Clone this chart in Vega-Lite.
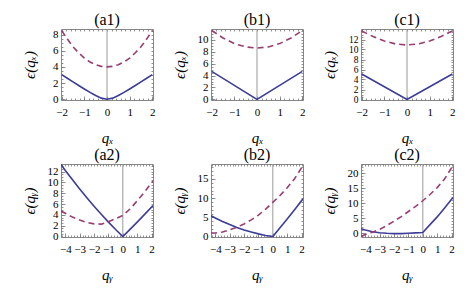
{
"$schema": "https://vega.github.io/schema/vega-lite/v6.json",
"padding": {"left": 21, "top": 11, "right": 5, "bottom": 5},
"background": "white",
"bounds": "flush",
"columns": 3,
"spacing": {"row": 64, "column": 58},
"datasets": {
"curves": [
{"p":"a1","s":"b","q":-2,"v":3.05},{"p":"a1","s":"b","q":-1.75,"v":2.6},{"p":"a1","s":"b","q":-1.5,"v":2.15},{"p":"a1","s":"b","q":-1.25,"v":1.7},{"p":"a1","s":"b","q":-1,"v":1.27},{"p":"a1","s":"b","q":-0.75,"v":0.85},{"p":"a1","s":"b","q":-0.5,"v":0.45},{"p":"a1","s":"b","q":-0.25,"v":0.13},{"p":"a1","s":"b","q":0,"v":0},{"p":"a1","s":"b","q":0.25,"v":0.13},{"p":"a1","s":"b","q":0.5,"v":0.45},{"p":"a1","s":"b","q":0.75,"v":0.85},{"p":"a1","s":"b","q":1,"v":1.27},{"p":"a1","s":"b","q":1.25,"v":1.7},{"p":"a1","s":"b","q":1.5,"v":2.15},{"p":"a1","s":"b","q":1.75,"v":2.6},{"p":"a1","s":"b","q":2,"v":3.05},
{"p":"a1","s":"d","q":-2,"v":8.5},{"p":"a1","s":"d","q":-1.75,"v":7.45},{"p":"a1","s":"d","q":-1.5,"v":6.5},{"p":"a1","s":"d","q":-1.25,"v":5.75},{"p":"a1","s":"d","q":-1,"v":5.1},{"p":"a1","s":"d","q":-0.75,"v":4.6},{"p":"a1","s":"d","q":-0.5,"v":4.27},{"p":"a1","s":"d","q":-0.25,"v":4.07},{"p":"a1","s":"d","q":0,"v":4.0},{"p":"a1","s":"d","q":0.25,"v":4.07},{"p":"a1","s":"d","q":0.5,"v":4.27},{"p":"a1","s":"d","q":0.75,"v":4.6},{"p":"a1","s":"d","q":1,"v":5.1},{"p":"a1","s":"d","q":1.25,"v":5.75},{"p":"a1","s":"d","q":1.5,"v":6.5},{"p":"a1","s":"d","q":1.75,"v":7.45},{"p":"a1","s":"d","q":2,"v":8.5},
{"p":"b1","s":"b","q":-2,"v":4.7},{"p":"b1","s":"b","q":-1,"v":2.35},{"p":"b1","s":"b","q":0,"v":0},{"p":"b1","s":"b","q":1,"v":2.35},{"p":"b1","s":"b","q":2,"v":4.7},
{"p":"b1","s":"d","q":-2,"v":11.55},{"p":"b1","s":"d","q":-1.5,"v":10.3},{"p":"b1","s":"d","q":-1,"v":9.35},{"p":"b1","s":"d","q":-0.5,"v":8.8},{"p":"b1","s":"d","q":0,"v":8.6},{"p":"b1","s":"d","q":0.5,"v":8.8},{"p":"b1","s":"d","q":1,"v":9.35},{"p":"b1","s":"d","q":1.5,"v":10.3},{"p":"b1","s":"d","q":2,"v":11.55},
{"p":"c1","s":"b","q":-2,"v":5.1},{"p":"c1","s":"b","q":-1,"v":2.55},{"p":"c1","s":"b","q":0,"v":0},{"p":"c1","s":"b","q":1,"v":2.55},{"p":"c1","s":"b","q":2,"v":5.1},
{"p":"c1","s":"d","q":-2,"v":13.7},{"p":"c1","s":"d","q":-1.5,"v":12.6},{"p":"c1","s":"d","q":-1,"v":11.7},{"p":"c1","s":"d","q":-0.5,"v":11.1},{"p":"c1","s":"d","q":0,"v":10.9},{"p":"c1","s":"d","q":0.5,"v":11.1},{"p":"c1","s":"d","q":1,"v":11.7},{"p":"c1","s":"d","q":1.5,"v":12.6},{"p":"c1","s":"d","q":2,"v":13.7},
{"p":"a2","s":"b","q":-4.3,"v":13.3},{"p":"a2","s":"b","q":-4,"v":12.2},{"p":"a2","s":"b","q":-3.5,"v":10.48},{"p":"a2","s":"b","q":-3,"v":8.8},{"p":"a2","s":"b","q":-2.5,"v":7.18},{"p":"a2","s":"b","q":-2,"v":5.62},{"p":"a2","s":"b","q":-1.5,"v":4.12},{"p":"a2","s":"b","q":-1,"v":2.68},{"p":"a2","s":"b","q":-0.5,"v":1.31},{"p":"a2","s":"b","q":0,"v":0},{"p":"a2","s":"b","q":0.5,"v":1.33},{"p":"a2","s":"b","q":1,"v":2.68},{"p":"a2","s":"b","q":1.5,"v":4.05},{"p":"a2","s":"b","q":2.1,"v":5.72},
{"p":"a2","s":"d","q":-4.3,"v":4.73},{"p":"a2","s":"d","q":-4,"v":4.3},{"p":"a2","s":"d","q":-3.5,"v":3.6},{"p":"a2","s":"d","q":-3,"v":3.05},{"p":"a2","s":"d","q":-2.5,"v":2.6},{"p":"a2","s":"d","q":-2,"v":2.35},{"p":"a2","s":"d","q":-1.5,"v":2.3},{"p":"a2","s":"d","q":-1,"v":2.75},{"p":"a2","s":"d","q":-0.5,"v":3.3},{"p":"a2","s":"d","q":0,"v":3.9},{"p":"a2","s":"d","q":0.5,"v":5.1},{"p":"a2","s":"d","q":1,"v":6.6},{"p":"a2","s":"d","q":1.5,"v":8.2},{"p":"a2","s":"d","q":2.1,"v":10.25},
{"p":"b2","s":"b","q":-4.3,"v":5.43},{"p":"b2","s":"b","q":-4,"v":4.85},{"p":"b2","s":"b","q":-3.5,"v":3.95},{"p":"b2","s":"b","q":-3,"v":3.13},{"p":"b2","s":"b","q":-2.5,"v":2.4},{"p":"b2","s":"b","q":-2,"v":1.75},{"p":"b2","s":"b","q":-1.5,"v":1.19},{"p":"b2","s":"b","q":-1,"v":0.71},{"p":"b2","s":"b","q":-0.5,"v":0.31},{"p":"b2","s":"b","q":0,"v":0},{"p":"b2","s":"b","q":0.5,"v":2.3},{"p":"b2","s":"b","q":1,"v":4.6},{"p":"b2","s":"b","q":1.5,"v":6.95},{"p":"b2","s":"b","q":2.1,"v":9.83},
{"p":"b2","s":"d","q":-4.3,"v":0.95},{"p":"b2","s":"d","q":-4,"v":0.93},{"p":"b2","s":"d","q":-3.5,"v":1.2},{"p":"b2","s":"d","q":-3,"v":1.75},{"p":"b2","s":"d","q":-2.5,"v":2.45},{"p":"b2","s":"d","q":-2,"v":3.3},{"p":"b2","s":"d","q":-1.5,"v":4.35},{"p":"b2","s":"d","q":-1,"v":5.6},{"p":"b2","s":"d","q":-0.5,"v":7.15},{"p":"b2","s":"d","q":0,"v":8.9},{"p":"b2","s":"d","q":0.5,"v":10.7},{"p":"b2","s":"d","q":1,"v":12.7},{"p":"b2","s":"d","q":1.5,"v":15.0},{"p":"b2","s":"d","q":2.1,"v":18.5},
{"p":"c2","s":"b","q":-4.3,"v":1.45},{"p":"c2","s":"b","q":-4,"v":1.0},{"p":"c2","s":"b","q":-3.5,"v":0.45},{"p":"c2","s":"b","q":-3,"v":0.1},{"p":"c2","s":"b","q":-2.5,"v":-0.1},{"p":"c2","s":"b","q":-2,"v":-0.2},{"p":"c2","s":"b","q":-1.5,"v":-0.2},{"p":"c2","s":"b","q":-1,"v":-0.1},{"p":"c2","s":"b","q":-0.5,"v":0.05},{"p":"c2","s":"b","q":0,"v":0.2},{"p":"c2","s":"b","q":0.5,"v":2.8},{"p":"c2","s":"b","q":1,"v":5.4},{"p":"c2","s":"b","q":1.5,"v":8.3},{"p":"c2","s":"b","q":2.1,"v":11.9},
{"p":"c2","s":"d","q":-4.3,"v":-1.1},{"p":"c2","s":"d","q":-4,"v":-0.5},{"p":"c2","s":"d","q":-3.5,"v":0.3},{"p":"c2","s":"d","q":-3,"v":1.2},{"p":"c2","s":"d","q":-2.5,"v":2.5},{"p":"c2","s":"d","q":-2,"v":4.0},{"p":"c2","s":"d","q":-1.5,"v":5.5},{"p":"c2","s":"d","q":-1,"v":7.2},{"p":"c2","s":"d","q":-0.5,"v":8.9},{"p":"c2","s":"d","q":0,"v":10.8},{"p":"c2","s":"d","q":0.5,"v":12.9},{"p":"c2","s":"d","q":1,"v":15.2},{"p":"c2","s":"d","q":1.5,"v":18.0},{"p":"c2","s":"d","q":2.1,"v":22.6}
]
},
"concat": [
{"width": 92, "height": 71, "title": {"text": "(a1)"}, "resolve": {"axis": {"x": "independent", "y": "independent"}},
 "layer": [
  {"data": {"values": [{"q": 0, "lo": -0.1, "hi": 8.7}]}, "mark": {"type": "rule", "color": "#999", "strokeWidth": 1},
   "encoding": {"x": {"field": "q", "type": "quantitative", "scale": {"domain": [-2.03, 2.03], "nice": false, "zero": false}, "axis": {"orient": "top", "values": [-2,-1.8,-1.6,-1.4,-1.2,-1,-0.8,-0.6,-0.4,-0.2,0,0.2,0.4,0.6,0.8,1,1.2,1.4,1.6,1.8,2], "labels": false, "title": null, "tickSize": -2, "minExtent": 0, "maxExtent": 0}},
    "y": {"field": "lo", "type": "quantitative", "scale": {"domain": [-0.1, 8.7], "nice": false, "zero": false}, "axis": {"orient": "left", "values": [0,0.5,1,1.5,2,2.5,3,3.5,4,4.5,5,5.5,6,6.5,7,7.5,8,8.5], "labels": false, "title": null, "tickSize": -2, "minExtent": 0, "maxExtent": 0}}, "y2": {"field": "hi"}}},
  {"data": {"name": "curves"}, "transform": [{"filter": "datum.p === 'a1' && datum.s === 'b'"}], "mark": {"type": "line", "color": "#3d3d99", "strokeWidth": 1.6, "clip": true},
   "encoding": {"x": {"field": "q", "type": "quantitative", "scale": {"domain": [-2.03, 2.03], "nice": false, "zero": false}, "axis": {"orient": "bottom", "values": [-2,-1,0,1,2], "labelOverlap": false, "labelFlush": false, "title": "qₓ"}},
    "y": {"field": "v", "type": "quantitative", "scale": {"domain": [-0.1, 8.7], "nice": false, "zero": false}, "axis": {"orient": "left", "values": [0,2,4,6,8], "labelOverlap": false, "labelFlush": false, "title": "ϵ(qₓ)"}}}},
  {"data": {"name": "curves"}, "transform": [{"filter": "datum.p === 'a1' && datum.s === 'd'"}], "mark": {"type": "line", "color": "#993d71", "strokeWidth": 1.6, "strokeDash": [6, 4], "clip": true},
   "encoding": {"x": {"field": "q", "type": "quantitative", "scale": {"domain": [-2.03, 2.03], "nice": false, "zero": false}, "axis": {"orient": "bottom", "values": [-2,-1.8,-1.6,-1.4,-1.2,-1,-0.8,-0.6,-0.4,-0.2,0,0.2,0.4,0.6,0.8,1,1.2,1.4,1.6,1.8,2], "labels": false, "title": null, "tickSize": -2, "minExtent": 0, "maxExtent": 0}},
    "y": {"field": "v", "type": "quantitative", "scale": {"domain": [-0.1, 8.7], "nice": false, "zero": false}, "axis": {"orient": "right", "values": [0,0.5,1,1.5,2,2.5,3,3.5,4,4.5,5,5.5,6,6.5,7,7.5,8,8.5], "labels": false, "title": null, "tickSize": -2, "minExtent": 0, "maxExtent": 0}}}}
 ]},
{"width": 92, "height": 71, "title": {"text": "(b1)"}, "resolve": {"axis": {"x": "independent", "y": "independent"}},
 "layer": [
  {"data": {"values": [{"q": 0, "lo": -0.1, "hi": 11.8}]}, "mark": {"type": "rule", "color": "#999", "strokeWidth": 1},
   "encoding": {"x": {"field": "q", "type": "quantitative", "scale": {"domain": [-2.03, 2.03], "nice": false, "zero": false}, "axis": {"orient": "top", "values": [-2,-1.8,-1.6,-1.4,-1.2,-1,-0.8,-0.6,-0.4,-0.2,0,0.2,0.4,0.6,0.8,1,1.2,1.4,1.6,1.8,2], "labels": false, "title": null, "tickSize": -2, "minExtent": 0, "maxExtent": 0}},
    "y": {"field": "lo", "type": "quantitative", "scale": {"domain": [-0.1, 11.8], "nice": false, "zero": false}, "axis": {"orient": "left", "values": [0,0.5,1,1.5,2,2.5,3,3.5,4,4.5,5,5.5,6,6.5,7,7.5,8,8.5,9,9.5,10,10.5,11,11.5], "labels": false, "title": null, "tickSize": -2, "minExtent": 0, "maxExtent": 0}}, "y2": {"field": "hi"}}},
  {"data": {"name": "curves"}, "transform": [{"filter": "datum.p === 'b1' && datum.s === 'b'"}], "mark": {"type": "line", "color": "#3d3d99", "strokeWidth": 1.6, "clip": true},
   "encoding": {"x": {"field": "q", "type": "quantitative", "scale": {"domain": [-2.03, 2.03], "nice": false, "zero": false}, "axis": {"orient": "bottom", "values": [-2,-1,0,1,2], "labelOverlap": false, "labelFlush": false, "title": "qₓ"}},
    "y": {"field": "v", "type": "quantitative", "scale": {"domain": [-0.1, 11.8], "nice": false, "zero": false}, "axis": {"orient": "left", "values": [0,2,4,6,8,10], "labelOverlap": false, "labelFlush": false, "title": "ϵ(qₓ)"}}}},
  {"data": {"name": "curves"}, "transform": [{"filter": "datum.p === 'b1' && datum.s === 'd'"}], "mark": {"type": "line", "color": "#993d71", "strokeWidth": 1.6, "strokeDash": [6, 4], "clip": true},
   "encoding": {"x": {"field": "q", "type": "quantitative", "scale": {"domain": [-2.03, 2.03], "nice": false, "zero": false}, "axis": {"orient": "bottom", "values": [-2,-1.8,-1.6,-1.4,-1.2,-1,-0.8,-0.6,-0.4,-0.2,0,0.2,0.4,0.6,0.8,1,1.2,1.4,1.6,1.8,2], "labels": false, "title": null, "tickSize": -2, "minExtent": 0, "maxExtent": 0}},
    "y": {"field": "v", "type": "quantitative", "scale": {"domain": [-0.1, 11.8], "nice": false, "zero": false}, "axis": {"orient": "right", "values": [0,0.5,1,1.5,2,2.5,3,3.5,4,4.5,5,5.5,6,6.5,7,7.5,8,8.5,9,9.5,10,10.5,11,11.5], "labels": false, "title": null, "tickSize": -2, "minExtent": 0, "maxExtent": 0}}}}
 ]},
{"width": 92, "height": 71, "title": {"text": "(c1)"}, "resolve": {"axis": {"x": "independent", "y": "independent"}},
 "layer": [
  {"data": {"values": [{"q": 0, "lo": -0.1, "hi": 14.1}]}, "mark": {"type": "rule", "color": "#999", "strokeWidth": 1},
   "encoding": {"x": {"field": "q", "type": "quantitative", "scale": {"domain": [-2.03, 2.03], "nice": false, "zero": false}, "axis": {"orient": "top", "values": [-2,-1.8,-1.6,-1.4,-1.2,-1,-0.8,-0.6,-0.4,-0.2,0,0.2,0.4,0.6,0.8,1,1.2,1.4,1.6,1.8,2], "labels": false, "title": null, "tickSize": -2, "minExtent": 0, "maxExtent": 0}},
    "y": {"field": "lo", "type": "quantitative", "scale": {"domain": [-0.1, 14.1], "nice": false, "zero": false}, "axis": {"orient": "left", "values": [0,0.5,1,1.5,2,2.5,3,3.5,4,4.5,5,5.5,6,6.5,7,7.5,8,8.5,9,9.5,10,10.5,11,11.5,12,12.5,13,13.5,14], "labels": false, "title": null, "tickSize": -2, "minExtent": 0, "maxExtent": 0}}, "y2": {"field": "hi"}}},
  {"data": {"name": "curves"}, "transform": [{"filter": "datum.p === 'c1' && datum.s === 'b'"}], "mark": {"type": "line", "color": "#3d3d99", "strokeWidth": 1.6, "clip": true},
   "encoding": {"x": {"field": "q", "type": "quantitative", "scale": {"domain": [-2.03, 2.03], "nice": false, "zero": false}, "axis": {"orient": "bottom", "values": [-2,-1,0,1,2], "labelOverlap": false, "labelFlush": false, "title": "qₓ"}},
    "y": {"field": "v", "type": "quantitative", "scale": {"domain": [-0.1, 14.1], "nice": false, "zero": false}, "axis": {"orient": "left", "values": [0,2,4,6,8,10,12], "labelOverlap": false, "labelFlush": false, "labelFontSize": 9.5, "title": "ϵ(qₓ)"}}}},
  {"data": {"name": "curves"}, "transform": [{"filter": "datum.p === 'c1' && datum.s === 'd'"}], "mark": {"type": "line", "color": "#993d71", "strokeWidth": 1.6, "strokeDash": [6, 4], "clip": true},
   "encoding": {"x": {"field": "q", "type": "quantitative", "scale": {"domain": [-2.03, 2.03], "nice": false, "zero": false}, "axis": {"orient": "bottom", "values": [-2,-1.8,-1.6,-1.4,-1.2,-1,-0.8,-0.6,-0.4,-0.2,0,0.2,0.4,0.6,0.8,1,1.2,1.4,1.6,1.8,2], "labels": false, "title": null, "tickSize": -2, "minExtent": 0, "maxExtent": 0}},
    "y": {"field": "v", "type": "quantitative", "scale": {"domain": [-0.1, 14.1], "nice": false, "zero": false}, "axis": {"orient": "right", "values": [0,0.5,1,1.5,2,2.5,3,3.5,4,4.5,5,5.5,6,6.5,7,7.5,8,8.5,9,9.5,10,10.5,11,11.5,12,12.5,13,13.5,14], "labels": false, "title": null, "tickSize": -2, "minExtent": 0, "maxExtent": 0}}}}
 ]},
{"width": 92, "height": 73, "title": {"text": "(a2)"}, "resolve": {"axis": {"x": "independent", "y": "independent"}},
 "layer": [
  {"data": {"values": [{"q": 0, "lo": -0.07, "hi": 13.4}]}, "mark": {"type": "rule", "color": "#999", "strokeWidth": 1},
   "encoding": {"x": {"field": "q", "type": "quantitative", "scale": {"domain": [-4.3, 2.1], "nice": false, "zero": false}, "axis": {"orient": "top", "values": [-4.2,-4,-3.8,-3.6,-3.4,-3.2,-3,-2.8,-2.6,-2.4,-2.2,-2,-1.8,-1.6,-1.4,-1.2,-1,-0.8,-0.6,-0.4,-0.2,0,0.2,0.4,0.6,0.8,1,1.2,1.4,1.6,1.8,2], "labels": false, "title": null, "tickSize": -2, "minExtent": 0, "maxExtent": 0}},
    "y": {"field": "lo", "type": "quantitative", "scale": {"domain": [-0.07, 13.4], "nice": false, "zero": false}, "axis": {"orient": "left", "values": [0,0.5,1,1.5,2,2.5,3,3.5,4,4.5,5,5.5,6,6.5,7,7.5,8,8.5,9,9.5,10,10.5,11,11.5,12,12.5,13], "labels": false, "title": null, "tickSize": -2, "minExtent": 0, "maxExtent": 0}}, "y2": {"field": "hi"}}},
  {"data": {"name": "curves"}, "transform": [{"filter": "datum.p === 'a2' && datum.s === 'b'"}], "mark": {"type": "line", "color": "#3d3d99", "strokeWidth": 1.6, "clip": true},
   "encoding": {"x": {"field": "q", "type": "quantitative", "scale": {"domain": [-4.3, 2.1], "nice": false, "zero": false}, "axis": {"orient": "bottom", "values": [-4,-3,-2,-1,0,1,2], "labelOverlap": false, "labelFlush": false, "title": "qᵧ"}},
    "y": {"field": "v", "type": "quantitative", "scale": {"domain": [-0.07, 13.4], "nice": false, "zero": false}, "axis": {"orient": "left", "values": [0,2,4,6,8,10,12], "labelOverlap": false, "labelFlush": false, "title": "ϵ(qᵧ)"}}}},
  {"data": {"name": "curves"}, "transform": [{"filter": "datum.p === 'a2' && datum.s === 'd'"}], "mark": {"type": "line", "color": "#993d71", "strokeWidth": 1.6, "strokeDash": [6, 4], "clip": true},
   "encoding": {"x": {"field": "q", "type": "quantitative", "scale": {"domain": [-4.3, 2.1], "nice": false, "zero": false}, "axis": {"orient": "bottom", "values": [-4.2,-4,-3.8,-3.6,-3.4,-3.2,-3,-2.8,-2.6,-2.4,-2.2,-2,-1.8,-1.6,-1.4,-1.2,-1,-0.8,-0.6,-0.4,-0.2,0,0.2,0.4,0.6,0.8,1,1.2,1.4,1.6,1.8,2], "labels": false, "title": null, "tickSize": -2, "minExtent": 0, "maxExtent": 0}},
    "y": {"field": "v", "type": "quantitative", "scale": {"domain": [-0.07, 13.4], "nice": false, "zero": false}, "axis": {"orient": "right", "values": [0,0.5,1,1.5,2,2.5,3,3.5,4,4.5,5,5.5,6,6.5,7,7.5,8,8.5,9,9.5,10,10.5,11,11.5,12,12.5,13], "labels": false, "title": null, "tickSize": -2, "minExtent": 0, "maxExtent": 0}}}}
 ]},
{"width": 92, "height": 73, "title": {"text": "(b2)"}, "resolve": {"axis": {"x": "independent", "y": "independent"}},
 "layer": [
  {"data": {"values": [{"q": 0, "lo": -0.1, "hi": 18.9}]}, "mark": {"type": "rule", "color": "#999", "strokeWidth": 1},
   "encoding": {"x": {"field": "q", "type": "quantitative", "scale": {"domain": [-4.3, 2.1], "nice": false, "zero": false}, "axis": {"orient": "top", "values": [-4.2,-4,-3.8,-3.6,-3.4,-3.2,-3,-2.8,-2.6,-2.4,-2.2,-2,-1.8,-1.6,-1.4,-1.2,-1,-0.8,-0.6,-0.4,-0.2,0,0.2,0.4,0.6,0.8,1,1.2,1.4,1.6,1.8,2], "labels": false, "title": null, "tickSize": -2, "minExtent": 0, "maxExtent": 0}},
    "y": {"field": "lo", "type": "quantitative", "scale": {"domain": [-0.1, 18.9], "nice": false, "zero": false}, "axis": {"orient": "left", "values": [0,1,2,3,4,5,6,7,8,9,10,11,12,13,14,15,16,17,18], "labels": false, "title": null, "tickSize": -2, "minExtent": 0, "maxExtent": 0}}, "y2": {"field": "hi"}}},
  {"data": {"name": "curves"}, "transform": [{"filter": "datum.p === 'b2' && datum.s === 'b'"}], "mark": {"type": "line", "color": "#3d3d99", "strokeWidth": 1.6, "clip": true},
   "encoding": {"x": {"field": "q", "type": "quantitative", "scale": {"domain": [-4.3, 2.1], "nice": false, "zero": false}, "axis": {"orient": "bottom", "values": [-4,-3,-2,-1,0,1,2], "labelOverlap": false, "labelFlush": false, "title": "qᵧ"}},
    "y": {"field": "v", "type": "quantitative", "scale": {"domain": [-0.1, 18.9], "nice": false, "zero": false}, "axis": {"orient": "left", "values": [0,5,10,15], "labelOverlap": false, "labelFlush": false, "title": "ϵ(qᵧ)"}}}},
  {"data": {"name": "curves"}, "transform": [{"filter": "datum.p === 'b2' && datum.s === 'd'"}], "mark": {"type": "line", "color": "#993d71", "strokeWidth": 1.6, "strokeDash": [6, 4], "clip": true},
   "encoding": {"x": {"field": "q", "type": "quantitative", "scale": {"domain": [-4.3, 2.1], "nice": false, "zero": false}, "axis": {"orient": "bottom", "values": [-4.2,-4,-3.8,-3.6,-3.4,-3.2,-3,-2.8,-2.6,-2.4,-2.2,-2,-1.8,-1.6,-1.4,-1.2,-1,-0.8,-0.6,-0.4,-0.2,0,0.2,0.4,0.6,0.8,1,1.2,1.4,1.6,1.8,2], "labels": false, "title": null, "tickSize": -2, "minExtent": 0, "maxExtent": 0}},
    "y": {"field": "v", "type": "quantitative", "scale": {"domain": [-0.1, 18.9], "nice": false, "zero": false}, "axis": {"orient": "right", "values": [0,1,2,3,4,5,6,7,8,9,10,11,12,13,14,15,16,17,18], "labels": false, "title": null, "tickSize": -2, "minExtent": 0, "maxExtent": 0}}}}
 ]},
{"width": 92, "height": 73, "title": {"text": "(c2)"}, "resolve": {"axis": {"x": "independent", "y": "independent"}},
 "layer": [
  {"data": {"values": [{"q": 0, "lo": -1.33, "hi": 23.1}]}, "mark": {"type": "rule", "color": "#999", "strokeWidth": 1},
   "encoding": {"x": {"field": "q", "type": "quantitative", "scale": {"domain": [-4.3, 2.1], "nice": false, "zero": false}, "axis": {"orient": "top", "values": [-4.2,-4,-3.8,-3.6,-3.4,-3.2,-3,-2.8,-2.6,-2.4,-2.2,-2,-1.8,-1.6,-1.4,-1.2,-1,-0.8,-0.6,-0.4,-0.2,0,0.2,0.4,0.6,0.8,1,1.2,1.4,1.6,1.8,2], "labels": false, "title": null, "tickSize": -2, "minExtent": 0, "maxExtent": 0}},
    "y": {"field": "lo", "type": "quantitative", "scale": {"domain": [-1.33, 23.1], "nice": false, "zero": false}, "axis": {"orient": "left", "values": [-1,0,1,2,3,4,5,6,7,8,9,10,11,12,13,14,15,16,17,18,19,20,21,22,23], "labels": false, "title": null, "tickSize": -2, "minExtent": 0, "maxExtent": 0}}, "y2": {"field": "hi"}}},
  {"data": {"name": "curves"}, "transform": [{"filter": "datum.p === 'c2' && datum.s === 'b'"}], "mark": {"type": "line", "color": "#3d3d99", "strokeWidth": 1.6, "clip": true},
   "encoding": {"x": {"field": "q", "type": "quantitative", "scale": {"domain": [-4.3, 2.1], "nice": false, "zero": false}, "axis": {"orient": "bottom", "values": [-4,-3,-2,-1,0,1,2], "labelOverlap": false, "labelFlush": false, "title": "qᵧ"}},
    "y": {"field": "v", "type": "quantitative", "scale": {"domain": [-1.33, 23.1], "nice": false, "zero": false}, "axis": {"orient": "left", "values": [0,5,10,15,20], "labelOverlap": false, "labelFlush": false, "title": "ϵ(qᵧ)"}}}},
  {"data": {"name": "curves"}, "transform": [{"filter": "datum.p === 'c2' && datum.s === 'd'"}], "mark": {"type": "line", "color": "#993d71", "strokeWidth": 1.6, "strokeDash": [6, 4], "clip": true},
   "encoding": {"x": {"field": "q", "type": "quantitative", "scale": {"domain": [-4.3, 2.1], "nice": false, "zero": false}, "axis": {"orient": "bottom", "values": [-4.2,-4,-3.8,-3.6,-3.4,-3.2,-3,-2.8,-2.6,-2.4,-2.2,-2,-1.8,-1.6,-1.4,-1.2,-1,-0.8,-0.6,-0.4,-0.2,0,0.2,0.4,0.6,0.8,1,1.2,1.4,1.6,1.8,2], "labels": false, "title": null, "tickSize": -2, "minExtent": 0, "maxExtent": 0}},
    "y": {"field": "v", "type": "quantitative", "scale": {"domain": [-1.33, 23.1], "nice": false, "zero": false}, "axis": {"orient": "right", "values": [-1,0,1,2,3,4,5,6,7,8,9,10,11,12,13,14,15,16,17,18,19,20,21,22,23], "labels": false, "title": null, "tickSize": -2, "minExtent": 0, "maxExtent": 0}}}}
 ]}
],
"config": {
 "view": {"stroke": "#888", "strokeWidth": 1},
 "font": "Liberation Serif",
 "axis": {"domain": false, "grid": false, "tickColor": "#777", "tickSize": -4, "tickWidth": 0.8, "labelFont": "Liberation Serif", "labelFontSize": 11, "labelColor": "#000", "titleFont": "Liberation Serif", "titleFontSize": 15, "titleFontWeight": "normal", "titleFontStyle": "italic", "titleColor": "#000", "labelOverlap": false, "labelFlush": false, "labelBound": false},
 "axisX": {"labelPadding": 10, "titlePadding": 10, "minExtent": 20, "maxExtent": 20},
 "axisY": {"labelPadding": 7, "titlePadding": 6, "minExtent": 18, "maxExtent": 18},
 "title": {"font": "Liberation Serif", "fontSize": 16, "fontWeight": "normal", "offset": 0, "dy": 3, "color": "#000"}
}
}
